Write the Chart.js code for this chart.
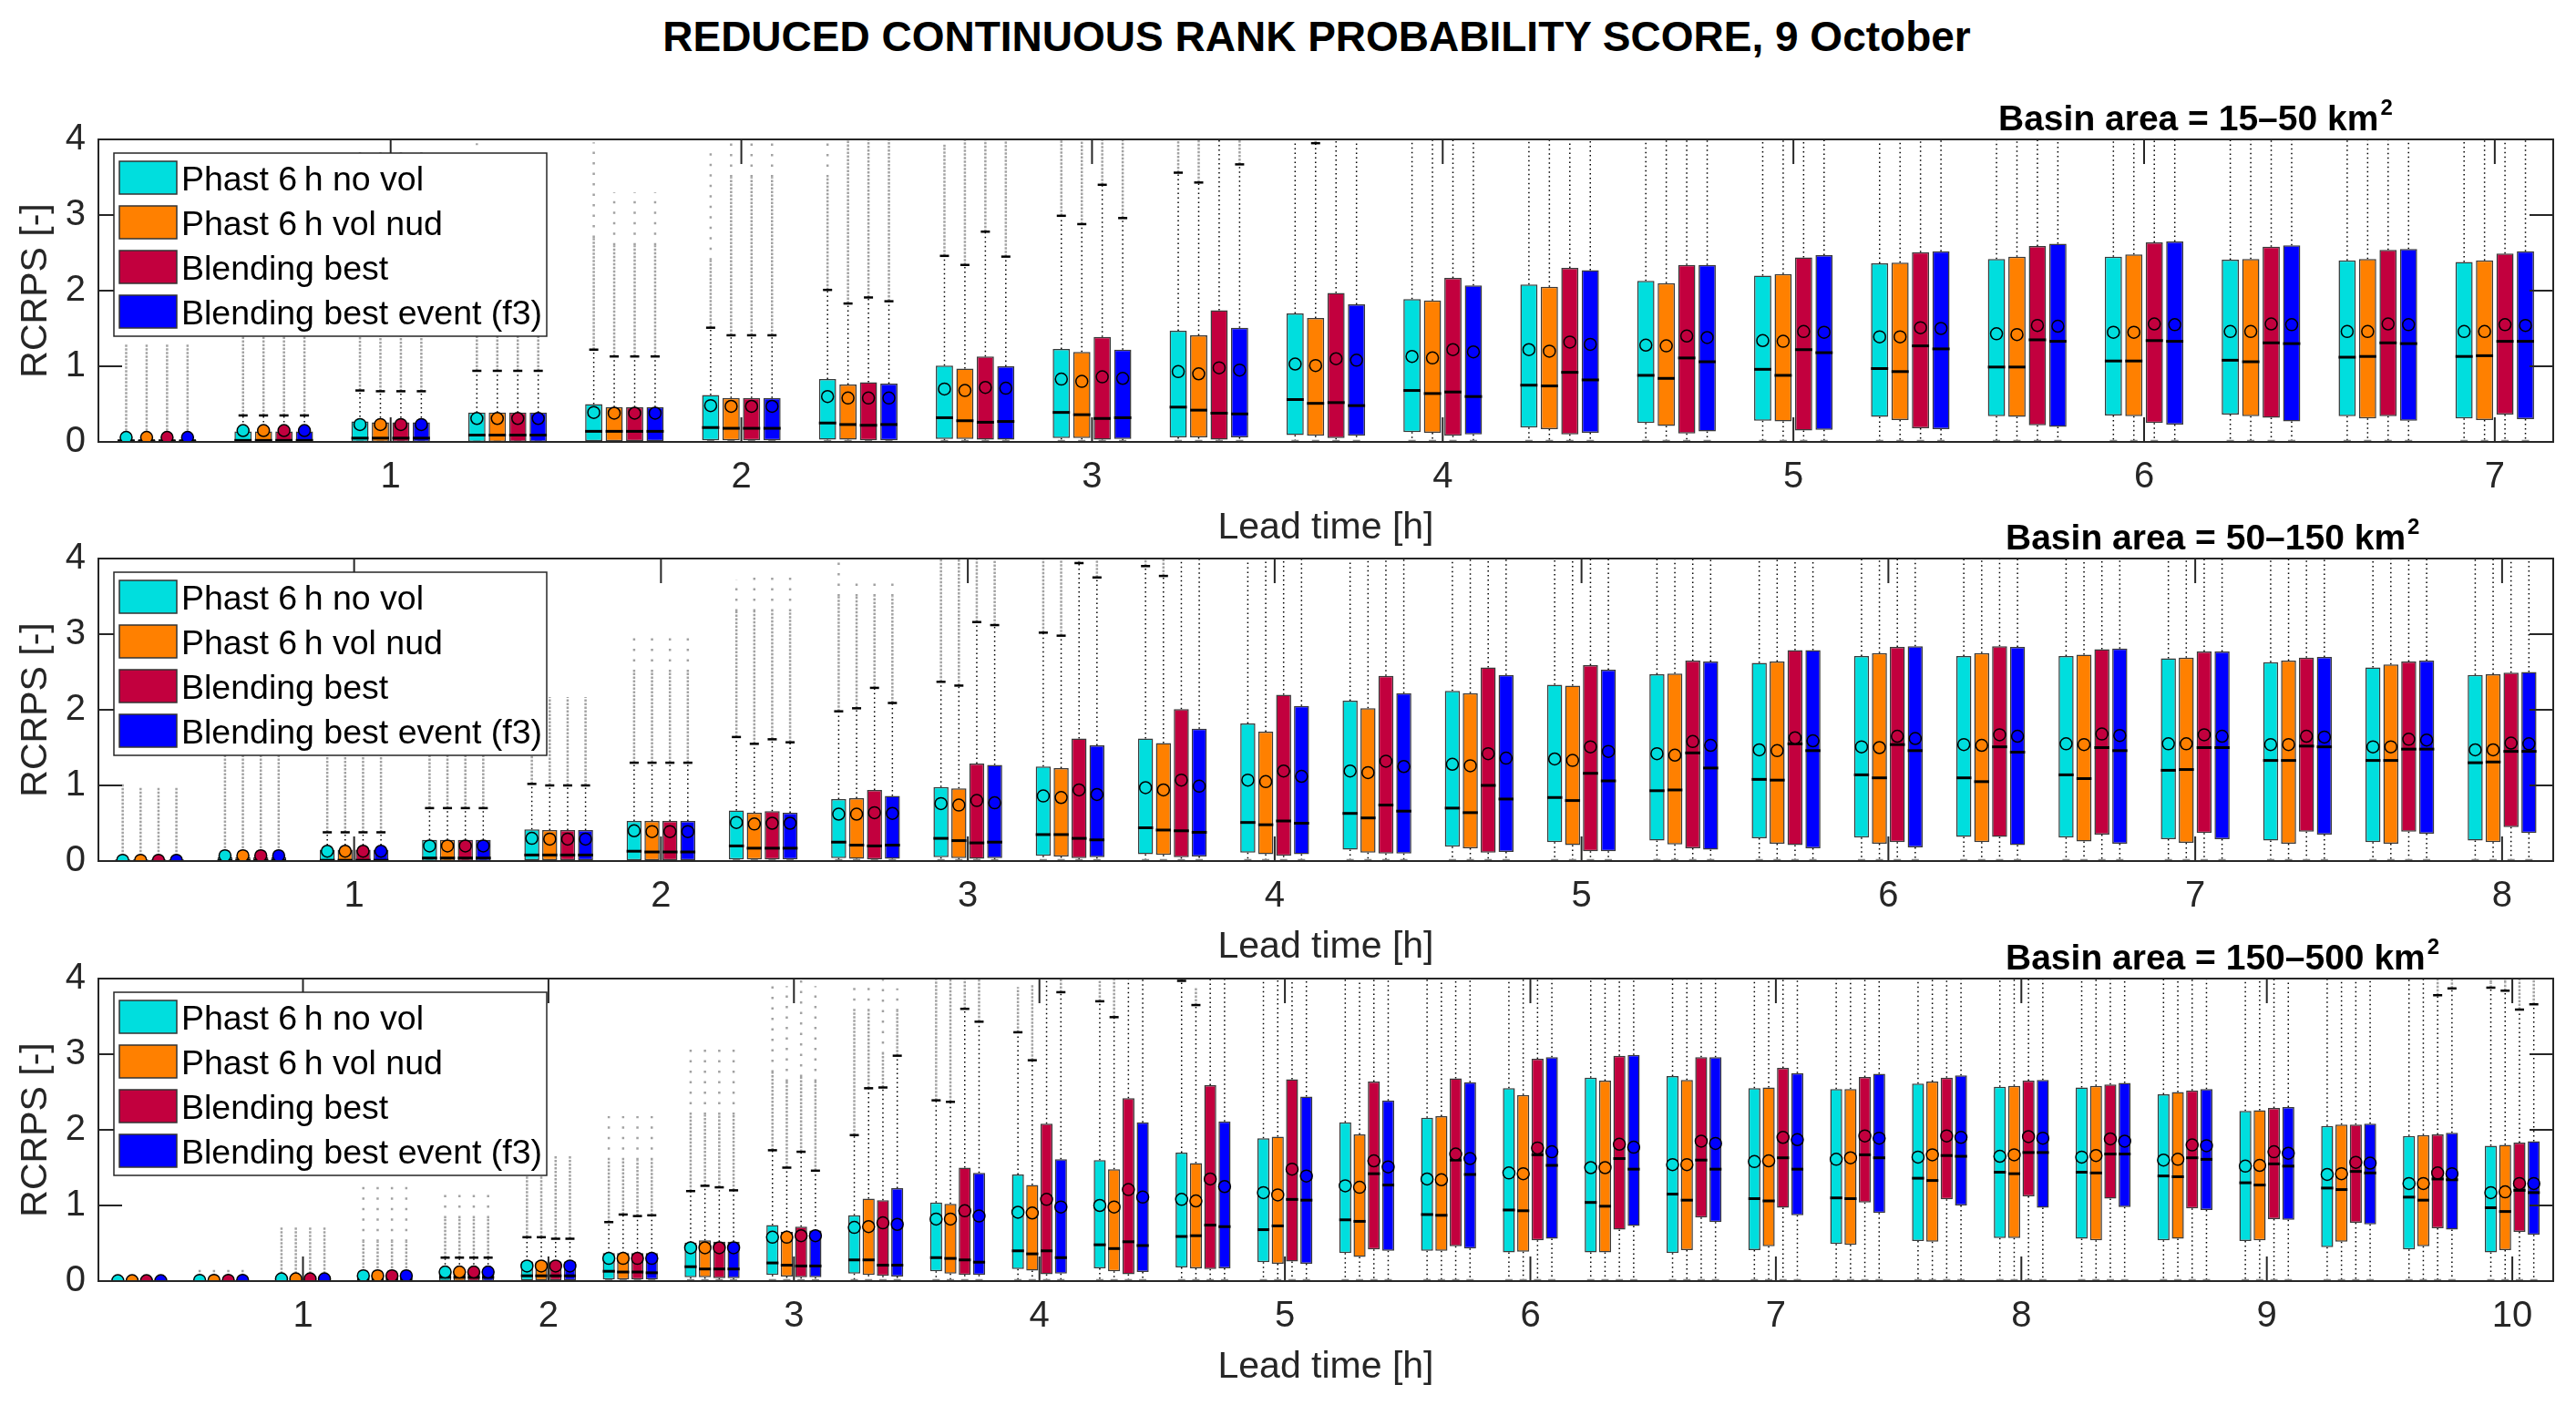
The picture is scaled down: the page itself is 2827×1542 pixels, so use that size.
<!DOCTYPE html>
<html>
<head>
<meta charset="utf-8">
<script src="https://cdn.jsdelivr.net/npm/chart.js@4.4.0/dist/chart.umd.min.js"></script>
<style>
  body { margin: 0; background: #fff; width: 2827px; height: 1542px; position: relative; overflow: hidden; }
  #title { position: absolute; left: 0; top: 13px; width: 2890px; text-align: center;
           font: bold 46px "Liberation Sans", Arial, sans-serif; line-height: 54px; color: #000; }
  canvas { position: absolute; left: 0; }
</style>
</head>
<body>
<div id="title">REDUCED CONTINUOUS RANK PROBABILITY SCORE, 9 October</div>
<canvas id="c1" width="2827" height="517" style="top:93px"></canvas>
<canvas id="c2" width="2827" height="517" style="top:553px"></canvas>
<canvas id="c3" width="2827" height="517" style="top:1014px"></canvas>
<script>
// series (order: cyan, orange, red, blue)
const SERIES = ['Phast 6\u2009h no vol', 'Phast 6\u2009h vol nud', 'Blending best', 'Blending best event (f3)'];
const COLORS = ['#00DEDE', '#FF8000', '#C2003E', '#0000FF'];

// ---------- panel 1: basin area 15-50 km2 ----------
const P1_LEAD = [20, 40, 60, 80, 100, 120, 140, 160, 180, 200, 220, 240, 260, 280, 300, 320, 340, 360, 380, 400, 420];
const P1_HOURS = [1, 2, 3, 4, 5, 6, 7];
const P1_Q1 = [
  [0, 0, 0, 0, 0.01, 0.02, 0.03, 0.04, 0.05, 0.06, 0.09, 0.13, 0.19, 0.25, 0.28, 0.33, 0.34, 0.35, 0.36, 0.34, 0.31],
  [0, 0, 0, 0, 0.01, 0.02, 0.03, 0.04, 0.05, 0.06, 0.08, 0.12, 0.17, 0.21, 0.27, 0.29, 0.33, 0.34, 0.34, 0.31, 0.29],
  [0, 0, 0, 0, 0.01, 0.02, 0.02, 0.03, 0.03, 0.03, 0.05, 0.08, 0.10, 0.11, 0.15, 0.18, 0.22, 0.25, 0.32, 0.34, 0.36],
  [0, 0, 0, 0, 0.01, 0.02, 0.02, 0.03, 0.04, 0.06, 0.08, 0.10, 0.12, 0.14, 0.16, 0.17, 0.20, 0.23, 0.27, 0.28, 0.30]
];
const P1_MED = [
  [0.005, 0.02, 0.05, 0.09, 0.14, 0.19, 0.25, 0.32, 0.39, 0.46, 0.56, 0.68, 0.75, 0.88, 0.96, 0.97, 0.99, 1.07, 1.08, 1.12, 1.13],
  [0.005, 0.02, 0.05, 0.09, 0.14, 0.18, 0.23, 0.28, 0.36, 0.42, 0.51, 0.64, 0.74, 0.84, 0.88, 0.93, 0.99, 1.07, 1.06, 1.13, 1.14],
  [0.005, 0.02, 0.05, 0.09, 0.14, 0.18, 0.22, 0.26, 0.31, 0.38, 0.52, 0.66, 0.92, 1.11, 1.22, 1.27, 1.35, 1.34, 1.31, 1.31, 1.33],
  [0.005, 0.02, 0.05, 0.09, 0.14, 0.18, 0.23, 0.27, 0.32, 0.37, 0.48, 0.60, 0.82, 1.06, 1.18, 1.23, 1.33, 1.33, 1.30, 1.30, 1.33]
];
const P1_Q3 = [
  [0.04, 0.14, 0.27, 0.39, 0.50, 0.62, 0.83, 1.01, 1.23, 1.47, 1.70, 1.89, 2.08, 2.13, 2.20, 2.36, 2.42, 2.45, 2.41, 2.40, 2.38],
  [0.04, 0.14, 0.26, 0.39, 0.46, 0.58, 0.76, 0.97, 1.19, 1.41, 1.64, 1.87, 2.05, 2.10, 2.22, 2.37, 2.45, 2.48, 2.42, 2.42, 2.40],
  [0.04, 0.14, 0.26, 0.39, 0.46, 0.58, 0.79, 1.13, 1.39, 1.74, 1.97, 2.17, 2.30, 2.34, 2.44, 2.51, 2.59, 2.64, 2.58, 2.54, 2.49],
  [0.04, 0.14, 0.26, 0.39, 0.46, 0.58, 0.77, 1.00, 1.22, 1.51, 1.82, 2.07, 2.27, 2.34, 2.47, 2.52, 2.62, 2.65, 2.60, 2.55, 2.52]
];
const P1_MEAN = [
  [0.06, 0.15, 0.23, 0.31, 0.39, 0.48, 0.60, 0.70, 0.83, 0.93, 1.03, 1.13, 1.22, 1.28, 1.34, 1.39, 1.43, 1.45, 1.46, 1.46, 1.46],
  [0.06, 0.15, 0.23, 0.31, 0.38, 0.47, 0.58, 0.68, 0.80, 0.90, 1.01, 1.11, 1.20, 1.27, 1.33, 1.39, 1.42, 1.45, 1.46, 1.46, 1.46],
  [0.06, 0.15, 0.23, 0.31, 0.38, 0.47, 0.58, 0.72, 0.86, 0.98, 1.10, 1.22, 1.32, 1.40, 1.46, 1.51, 1.54, 1.56, 1.56, 1.56, 1.55],
  [0.06, 0.15, 0.23, 0.31, 0.38, 0.47, 0.58, 0.71, 0.84, 0.95, 1.08, 1.19, 1.29, 1.38, 1.45, 1.50, 1.53, 1.55, 1.55, 1.55, 1.54]
];
// upper whisker ends (values above 4 run off the top of the axes)
const P1_WHI = [
  [0.10, 0.35, 0.68, 0.94, 1.22, 1.51, 2.01, 2.46, 2.99, 3.56, 4.5, 4.5, 4.5, 4.5, 4.5, 4.5, 4.5, 4.5, 4.5, 4.5, 4.5],
  [0.10, 0.35, 0.67, 0.94, 1.13, 1.41, 1.83, 2.34, 2.88, 3.43, 3.95, 4.5, 4.5, 4.5, 4.5, 4.5, 4.5, 4.5, 4.5, 4.5, 4.5],
  [0.10, 0.35, 0.67, 0.94, 1.13, 1.41, 1.91, 2.78, 3.40, 4.5, 4.5, 4.5, 4.5, 4.5, 4.5, 4.5, 4.5, 4.5, 4.5, 4.5, 4.5],
  [0.10, 0.35, 0.67, 0.94, 1.13, 1.41, 1.86, 2.45, 2.96, 3.67, 4.5, 4.5, 4.5, 4.5, 4.5, 4.5, 4.5, 4.5, 4.5, 4.5, 4.5]
];
// outliers: dense column top and highest isolated point
const P1_OUTD = [
  [1.3, 1.7, 2.0, 2.4, 2.7, 2.4, 3.5, 3.9, 4, 4, null, null, null, null, null, null, null, null, null, null, null],
  [1.3, 1.7, 2.0, 2.4, 2.6, 3.5, 4, 4, 4, 4, 4, null, null, null, null, null, null, null, null, null, null],
  [1.3, 1.7, 2.0, 2.4, 2.6, 3.5, 4, 4, 4, null, null, null, null, null, null, null, null, null, null, null, null],
  [1.3, 1.7, 2.0, 2.4, 2.6, 3.5, 4, 4, 4, 4, null, null, null, null, null, null, null, null, null, null, null]
];
const P1_OUTMAX = [
  [1.3, 3.9, 3.92, 3.95, 3.96, 3.88, 3.96, 4, 4, 4, null, null, null, null, null, null, null, null, null, null, null],
  [1.3, 2.5, 3.92, 3.3, 3.3, 3.95, 4, 4, 4, 4, 4, null, null, null, null, null, null, null, null, null, null],
  [1.3, 2.5, 3.92, 3.3, 3.3, 3.95, 4, 4, 4, null, null, null, null, null, null, null, null, null, null, null, null],
  [1.3, 2.5, 3.92, 3.3, 3.3, 3.95, 4, 4, 4, 4, null, null, null, null, null, null, null, null, null, null, null]
];

// ---------- panel 2: basin area 50-150 km2 ----------
const P2_LEAD = [20, 40, 60, 80, 100, 120, 140, 160, 180, 200, 220, 240, 260, 280, 300, 320, 340, 360, 380, 400, 420, 440, 460, 480];
const P2_HOURS = [1, 2, 3, 4, 5, 6, 7, 8];
const P2_Q1 = [
  [0, 0, 0, 0, 0.01, 0.01, 0.02, 0.04, 0.05, 0.07, 0.09, 0.11, 0.15, 0.19, 0.25, 0.27, 0.30, 0.31, 0.32, 0.31, 0.29, 0.27, 0.25, 0.27],
  [0, 0, 0, 0, 0.01, 0.01, 0.02, 0.03, 0.04, 0.06, 0.08, 0.09, 0.11, 0.17, 0.21, 0.22, 0.23, 0.23, 0.25, 0.26, 0.24, 0.23, 0.23, 0.25],
  [0, 0, 0, 0, 0.01, 0.01, 0.02, 0.02, 0.03, 0.04, 0.05, 0.07, 0.10, 0.11, 0.13, 0.17, 0.21, 0.25, 0.32, 0.35, 0.37, 0.39, 0.39, 0.45],
  [0, 0, 0, 0, 0.01, 0.01, 0.02, 0.03, 0.04, 0.05, 0.06, 0.09, 0.10, 0.12, 0.13, 0.15, 0.17, 0.18, 0.21, 0.23, 0.29, 0.35, 0.36, 0.37]
];
const P2_MED = [
  [0, 0.005, 0.01, 0.04, 0.08, 0.13, 0.20, 0.25, 0.30, 0.35, 0.44, 0.51, 0.63, 0.70, 0.84, 0.93, 1.08, 1.14, 1.10, 1.14, 1.20, 1.33, 1.33, 1.30],
  [0, 0.005, 0.01, 0.04, 0.08, 0.12, 0.17, 0.21, 0.27, 0.35, 0.41, 0.48, 0.57, 0.64, 0.80, 0.94, 1.07, 1.10, 1.05, 1.09, 1.21, 1.33, 1.33, 1.31],
  [0, 0.005, 0.01, 0.04, 0.08, 0.12, 0.17, 0.20, 0.24, 0.30, 0.40, 0.53, 0.74, 1.00, 1.16, 1.43, 1.55, 1.54, 1.51, 1.50, 1.50, 1.52, 1.48, 1.45],
  [0, 0.005, 0.01, 0.04, 0.08, 0.12, 0.17, 0.21, 0.25, 0.28, 0.38, 0.50, 0.66, 0.82, 1.06, 1.23, 1.46, 1.46, 1.44, 1.46, 1.50, 1.51, 1.48, 1.45]
];
const P2_Q3 = [
  [0.01, 0.05, 0.15, 0.28, 0.42, 0.53, 0.67, 0.82, 0.98, 1.25, 1.62, 1.82, 2.12, 2.25, 2.33, 2.47, 2.62, 2.71, 2.71, 2.71, 2.68, 2.63, 2.56, 2.46],
  [0.01, 0.05, 0.15, 0.28, 0.41, 0.53, 0.64, 0.83, 0.96, 1.23, 1.56, 1.71, 2.02, 2.22, 2.32, 2.48, 2.64, 2.75, 2.75, 2.73, 2.69, 2.65, 2.60, 2.47],
  [0.01, 0.05, 0.15, 0.28, 0.41, 0.53, 0.66, 0.94, 1.29, 1.62, 2.01, 2.20, 2.45, 2.56, 2.59, 2.65, 2.79, 2.83, 2.84, 2.80, 2.77, 2.69, 2.64, 2.49],
  [0.01, 0.05, 0.15, 0.28, 0.41, 0.53, 0.64, 0.86, 1.27, 1.53, 1.75, 2.05, 2.22, 2.46, 2.53, 2.64, 2.79, 2.84, 2.83, 2.81, 2.77, 2.70, 2.65, 2.50]
];
const P2_MEAN = [
  [0.01, 0.07, 0.13, 0.20, 0.30, 0.40, 0.51, 0.62, 0.76, 0.86, 0.97, 1.07, 1.19, 1.28, 1.35, 1.42, 1.47, 1.51, 1.54, 1.55, 1.55, 1.54, 1.51, 1.47],
  [0.01, 0.07, 0.13, 0.20, 0.29, 0.39, 0.49, 0.62, 0.74, 0.84, 0.94, 1.05, 1.17, 1.26, 1.33, 1.40, 1.46, 1.50, 1.53, 1.54, 1.55, 1.54, 1.51, 1.47],
  [0.01, 0.07, 0.13, 0.20, 0.29, 0.39, 0.50, 0.64, 0.80, 0.94, 1.07, 1.19, 1.32, 1.42, 1.51, 1.58, 1.63, 1.65, 1.67, 1.68, 1.67, 1.65, 1.61, 1.56],
  [0.01, 0.07, 0.13, 0.20, 0.29, 0.39, 0.50, 0.63, 0.77, 0.88, 0.99, 1.12, 1.25, 1.36, 1.45, 1.53, 1.59, 1.62, 1.65, 1.66, 1.65, 1.64, 1.60, 1.55]
];
const P2_WHI = [
  [0.02, 0.12, 0.38, 0.70, 1.02, 1.30, 1.64, 1.98, 2.37, 3.02, 3.90, 4.5, 4.5, 4.5, 4.5, 4.5, 4.5, 4.5, 4.5, 4.5, 4.5, 4.5, 4.5, 4.5],
  [0.02, 0.12, 0.38, 0.70, 1.00, 1.30, 1.55, 2.02, 2.32, 2.98, 3.77, 4.5, 4.5, 4.5, 4.5, 4.5, 4.5, 4.5, 4.5, 4.5, 4.5, 4.5, 4.5, 4.5],
  [0.02, 0.12, 0.38, 0.70, 1.00, 1.30, 1.61, 2.29, 3.16, 3.94, 4.5, 4.5, 4.5, 4.5, 4.5, 4.5, 4.5, 4.5, 4.5, 4.5, 4.5, 4.5, 4.5, 4.5],
  [0.02, 0.12, 0.38, 0.70, 1.00, 1.30, 1.57, 2.09, 3.12, 3.75, 4.5, 4.5, 4.5, 4.5, 4.5, 4.5, 4.5, 4.5, 4.5, 4.5, 4.5, 4.5, 4.5, 4.5]
];
const P2_OUTD = [
  [1.03, 1.5, 2.0, 2.2, 2.2, 2.5, 3.3, 3.5, 4, 4, 4, null, null, null, null, null, null, null, null, null, null, null, null, null],
  [0.97, 1.5, 2.0, 2.2, 2.17, 2.5, 3.3, 3.5, 4, 4, 4, null, null, null, null, null, null, null, null, null, null, null, null, null],
  [0.97, 1.5, 2.0, 2.2, 2.17, 2.5, 3.3, 3.5, 4, 4, null, null, null, null, null, null, null, null, null, null, null, null, null, null],
  [0.97, 1.5, 2.0, 2.2, 2.17, 2.5, 3.3, 3.5, 4, 4, null, null, null, null, null, null, null, null, null, null, null, null, null, null]
];
const P2_OUTMAX = [
  [1.03, 1.5, 2.0, 2.2, 2.2, 3.0, 3.72, 3.98, 4, 4, 4, null, null, null, null, null, null, null, null, null, null, null, null, null],
  [0.97, 1.5, 2.0, 2.2, 2.17, 3.0, 3.8, 3.72, 4, 4, 4, null, null, null, null, null, null, null, null, null, null, null, null, null],
  [0.97, 1.5, 2.0, 2.2, 2.17, 3.0, 3.8, 3.72, 4, 4, null, null, null, null, null, null, null, null, null, null, null, null, null, null],
  [0.97, 1.5, 2.0, 2.2, 2.17, 3.0, 3.8, 3.72, 4, 4, null, null, null, null, null, null, null, null, null, null, null, null, null, null]
];

// ---------- panel 3: basin area 150-500 km2 ----------
const P3_LEAD = [20, 40, 60, 80, 100, 120, 140, 160, 180, 200, 220, 240, 260, 280, 300, 320, 340, 360, 380, 400, 420, 440, 460, 480, 500, 520, 540, 560, 580, 600];
const P3_HOURS = [1, 2, 3, 4, 5, 6, 7, 8, 9, 10];
const P3_Q1 = [
  [0, 0, 0, 0, 0, 0.01, 0.02, 0.05, 0.08, 0.10, 0.13, 0.16, 0.17, 0.18, 0.25, 0.37, 0.40, 0.38, 0.38, 0.37, 0.41, 0.49, 0.53, 0.57, 0.56, 0.54, 0.53, 0.45, 0.42, 0.38],
  [0, 0, 0, 0, 0, 0.01, 0.02, 0.05, 0.06, 0.08, 0.10, 0.14, 0.13, 0.17, 0.23, 0.32, 0.40, 0.39, 0.38, 0.41, 0.46, 0.48, 0.52, 0.57, 0.54, 0.56, 0.54, 0.52, 0.46, 0.41],
  [0, 0, 0, 0, 0, 0.01, 0.02, 0.04, 0.05, 0.07, 0.08, 0.09, 0.09, 0.16, 0.26, 0.42, 0.46, 0.54, 0.68, 0.84, 0.97, 1.04, 1.08, 1.12, 1.09, 0.96, 0.82, 0.77, 0.70, 0.65],
  [0, 0, 0, 0, 0, 0.01, 0.02, 0.04, 0.05, 0.06, 0.08, 0.10, 0.12, 0.17, 0.23, 0.40, 0.43, 0.56, 0.73, 0.78, 0.87, 0.90, 1.00, 0.97, 0.98, 0.94, 0.81, 0.75, 0.68, 0.61]
];
const P3_MED = [
  [0, 0, 0.005, 0.02, 0.05, 0.07, 0.13, 0.19, 0.24, 0.28, 0.31, 0.40, 0.48, 0.59, 0.68, 0.81, 0.88, 0.94, 1.04, 1.15, 1.09, 1.10, 1.36, 1.44, 1.44, 1.39, 1.30, 1.23, 1.11, 0.97],
  [0, 0, 0.005, 0.02, 0.05, 0.07, 0.12, 0.16, 0.21, 0.28, 0.30, 0.36, 0.43, 0.60, 0.73, 0.79, 0.87, 0.93, 0.99, 1.07, 1.06, 1.09, 1.33, 1.42, 1.43, 1.38, 1.27, 1.21, 1.07, 0.92],
  [0, 0, 0.005, 0.02, 0.05, 0.07, 0.12, 0.16, 0.20, 0.21, 0.28, 0.40, 0.52, 0.74, 1.08, 1.42, 1.60, 1.67, 1.62, 1.60, 1.63, 1.67, 1.66, 1.70, 1.68, 1.63, 1.55, 1.45, 1.35, 1.20],
  [0, 0, 0.005, 0.02, 0.05, 0.07, 0.11, 0.16, 0.20, 0.21, 0.25, 0.31, 0.47, 0.72, 1.07, 1.27, 1.41, 1.53, 1.48, 1.48, 1.48, 1.63, 1.65, 1.70, 1.68, 1.61, 1.52, 1.43, 1.34, 1.17]
];
const P3_Q3 = [
  [0.005, 0.01, 0.02, 0.06, 0.10, 0.26, 0.37, 0.51, 0.74, 0.87, 1.04, 1.41, 1.60, 1.70, 1.89, 2.10, 2.16, 2.55, 2.69, 2.71, 2.55, 2.54, 2.61, 2.57, 2.56, 2.47, 2.25, 2.05, 1.92, 1.79],
  [0.005, 0.01, 0.02, 0.06, 0.10, 0.26, 0.37, 0.54, 0.65, 1.09, 1.02, 1.27, 1.48, 1.56, 1.91, 1.94, 2.18, 2.46, 2.65, 2.66, 2.56, 2.54, 2.64, 2.58, 2.58, 2.50, 2.26, 2.07, 1.93, 1.80],
  [0.005, 0.01, 0.02, 0.06, 0.10, 0.26, 0.37, 0.52, 0.72, 1.07, 1.50, 2.08, 2.42, 2.59, 2.67, 2.64, 2.68, 2.94, 2.98, 2.96, 2.82, 2.70, 2.69, 2.65, 2.60, 2.52, 2.29, 2.07, 1.94, 1.83],
  [0.005, 0.01, 0.02, 0.06, 0.10, 0.26, 0.37, 0.52, 0.67, 1.23, 1.43, 1.61, 2.10, 2.11, 2.44, 2.39, 2.63, 2.96, 2.99, 2.96, 2.75, 2.74, 2.72, 2.66, 2.62, 2.54, 2.30, 2.08, 1.96, 1.85]
];
const P3_MEAN = [
  [0.005, 0.01, 0.03, 0.07, 0.12, 0.20, 0.30, 0.44, 0.58, 0.71, 0.82, 0.91, 1.00, 1.08, 1.17, 1.26, 1.35, 1.43, 1.50, 1.54, 1.58, 1.61, 1.64, 1.65, 1.64, 1.60, 1.52, 1.41, 1.29, 1.17],
  [0.005, 0.01, 0.03, 0.07, 0.12, 0.20, 0.30, 0.44, 0.58, 0.72, 0.82, 0.90, 0.98, 1.06, 1.14, 1.24, 1.34, 1.42, 1.50, 1.54, 1.59, 1.63, 1.67, 1.67, 1.66, 1.61, 1.53, 1.42, 1.29, 1.18],
  [0.005, 0.01, 0.03, 0.07, 0.12, 0.20, 0.30, 0.44, 0.60, 0.77, 0.93, 1.08, 1.21, 1.35, 1.48, 1.59, 1.68, 1.76, 1.81, 1.85, 1.90, 1.92, 1.92, 1.91, 1.88, 1.80, 1.71, 1.57, 1.43, 1.29],
  [0.005, 0.01, 0.03, 0.07, 0.12, 0.20, 0.30, 0.44, 0.60, 0.75, 0.86, 0.98, 1.11, 1.25, 1.39, 1.51, 1.62, 1.71, 1.77, 1.82, 1.87, 1.89, 1.90, 1.89, 1.85, 1.79, 1.69, 1.56, 1.42, 1.29]
];
const P3_WHI = [
  [0.01, 0.02, 0.05, 0.12, 0.31, 0.58, 0.78, 1.19, 1.73, 1.93, 2.39, 3.29, 3.70, 3.97, 4.5, 4.5, 4.5, 4.5, 4.5, 4.5, 4.5, 4.5, 4.5, 4.5, 4.5, 4.5, 4.5, 4.5, 4.5, 3.88],
  [0.01, 0.02, 0.05, 0.12, 0.31, 0.58, 0.88, 1.26, 1.50, 2.55, 2.37, 2.92, 3.49, 3.65, 4.5, 4.5, 4.5, 4.5, 4.5, 4.5, 4.5, 4.5, 4.5, 4.5, 4.5, 4.5, 4.5, 4.5, 4.5, 3.84],
  [0.01, 0.02, 0.05, 0.12, 0.31, 0.56, 0.86, 1.24, 1.71, 2.56, 3.60, 4.5, 4.5, 4.5, 4.5, 4.5, 4.5, 4.5, 4.5, 4.5, 4.5, 4.5, 4.5, 4.5, 4.5, 4.5, 4.5, 4.5, 3.78, 3.59],
  [0.01, 0.02, 0.05, 0.12, 0.31, 0.56, 0.87, 1.20, 1.46, 2.98, 3.43, 3.82, 4.5, 4.5, 4.5, 4.5, 4.5, 4.5, 4.5, 4.5, 4.5, 4.5, 4.5, 4.5, 4.5, 4.5, 4.5, 4.5, 3.87, 3.66]
];
const P3_OUTD = [
  [null, 0.15, 0.71, 0.52, 0.83, 1.67, 1.6, 2.2, 2.76, 3.57, 4, 3.89, 4, 4, null, null, null, null, null, null, null, null, null, null, null, null, null, null, null, 3.95],
  [null, 0.15, 0.71, 0.52, 0.83, 1.67, 1.6, 2.2, 2.64, 3.57, 4, 3.92, 4, 3.89, null, null, null, null, null, null, null, null, null, null, null, null, null, null, null, 3.95],
  [null, 0.15, 0.71, 0.52, 0.83, 1.67, 1.6, 2.2, 2.7, 3.0, 4, null, null, null, null, null, null, null, null, null, null, null, null, null, null, null, null, null, 4, 4],
  [null, 0.15, 0.71, 0.52, 0.83, 1.67, 1.6, 2.2, 2.64, 3.57, 4, 4, null, null, null, null, null, null, null, null, null, null, null, null, null, null, null, null, 4, 4]
];
const P3_OUTMAX = [
  [null, 0.15, 0.71, 1.35, 1.17, 1.67, 2.18, 3.13, 4, 3.93, 4, 3.89, 4, 4, null, null, null, null, null, null, null, null, null, null, null, null, null, null, null, 4],
  [null, 0.15, 0.71, 1.35, 1.17, 1.67, 2.18, 3.16, 3.9, 3.95, 4, 3.92, 4, 3.89, null, null, null, null, null, null, null, null, null, null, null, null, null, null, null, 4],
  [null, 0.15, 0.71, 1.35, 1.17, 1.67, 2.18, 3.16, 4, 4, 4, null, null, null, null, null, null, null, null, null, null, null, null, null, null, null, null, null, 4, 4],
  [null, 0.15, 0.71, 1.35, 1.17, 1.67, 2.18, 3.16, 3.9, 3.87, 4, 4, null, null, null, null, null, null, null, null, null, null, null, null, null, null, null, null, 4, 4]
];

Chart.defaults.font.family = '"Liberation Sans", Arial, Helvetica, sans-serif';
Chart.defaults.color = '#262626';
const AXIS = '#262626';

function seg(ctx, x1, y1, x2, y2) {
  ctx.beginPath();
  ctx.moveTo(x1, y1);
  ctx.lineTo(x2, y2);
  ctx.stroke();
}

// whiskers, outliers, medians, means, legend and frame, all placed through the chart scales
function boxExtras(p) {
  return {
    id: 'boxExtras',
    beforeDatasetsDraw(chart) {
      const { ctx, chartArea: a } = chart;
      const Y = v => chart.scales.y.getPixelForValue(v);
      ctx.save();
      ctx.beginPath();
      ctx.rect(a.left, a.top, a.width, a.height);
      ctx.clip();
      chart.data.datasets.forEach((ds, s) => {
        chart.getDatasetMeta(s).data.forEach((bar, k) => {
          const { x } = bar.getProps(['x'], true);
          const hi = p.whi[s][k], dn = p.outD[s][k], mx = p.outMax[s][k];
          if (dn != null) {
            ctx.strokeStyle = '#a2a2a2';
            ctx.lineWidth = 2.5;
            ctx.setLineDash([2.5, 1.5]);
            seg(ctx, x, Y(hi), x, Y(dn));
            if (mx > dn) {
              ctx.setLineDash([2.5, 9]);
              seg(ctx, x, Y(dn), x, Y(mx));
            }
          }
          ctx.strokeStyle = '#000';
          ctx.lineWidth = 1.5;
          ctx.setLineDash([1.5, 3.5]);
          seg(ctx, x, Y(p.q3[s][k]), x, Y(hi));
          seg(ctx, x, Y(p.q1[s][k]), x, Y(0));
          ctx.setLineDash([]);
          ctx.lineWidth = 2.5;
          if (hi <= 4) seg(ctx, x - 5, Y(hi), x + 5, Y(hi));
          ctx.strokeStyle = '#888';
          seg(ctx, x - 4, Y(0) - 1, x + 4, Y(0) - 1);
        });
      });
      ctx.restore();
    },
    afterDatasetsDraw(chart) {
      const { ctx, chartArea: a } = chart;
      const Y = v => chart.scales.y.getPixelForValue(v);
      ctx.save();
      ctx.beginPath();
      ctx.rect(a.left, a.top - 10, a.width, a.height + 10);
      ctx.clip();
      chart.data.datasets.forEach((ds, s) => {
        chart.getDatasetMeta(s).data.forEach((bar, k) => {
          const { x, width } = bar.getProps(['x', 'width'], true);
          ctx.strokeStyle = '#000';
          ctx.lineWidth = 3;
          seg(ctx, x - width / 2, Y(p.med[s][k]), x + width / 2, Y(p.med[s][k]));
          ctx.beginPath();
          ctx.arc(x, Y(p.mean[s][k]), 6.5, 0, Math.PI * 2);
          ctx.fillStyle = COLORS[s];
          ctx.fill();
          ctx.lineWidth = 1.5;
          ctx.stroke();
        });
      });
      ctx.restore();
    },
    afterDraw(chart) {
      const { ctx, chartArea: a } = chart;
      const xs = chart.scales.x, ys = chart.scales.y;
      ctx.save();
      // frame and inward ticks
      ctx.strokeStyle = AXIS;
      ctx.lineWidth = 2;
      ctx.strokeRect(a.left, a.top, a.width, a.height);
      p.hours.forEach(h => {
        const px = xs.getPixelForValue(h * 60);
        seg(ctx, px, a.bottom, px, a.bottom - 27);
        seg(ctx, px, a.top, px, a.top + 27);
      });
      [1, 2, 3].forEach(v => {
        const py = ys.getPixelForValue(v);
        seg(ctx, a.left, py, a.left + 26, py);
        seg(ctx, a.right, py, a.right - 26, py);
      });
      // legend
      const lx = a.left + 17, ly = a.top + 15;
      ctx.fillStyle = '#fff';
      ctx.fillRect(lx, ly, 475, 201);
      ctx.strokeStyle = '#262626';
      ctx.lineWidth = 1.5;
      ctx.strokeRect(lx, ly, 475, 201);
      ctx.font = '37.5px "Liberation Sans", Arial, sans-serif';
      ctx.textBaseline = 'alphabetic';
      SERIES.forEach((name, s) => {
        const sy = ly + 9 + s * 49;
        ctx.fillStyle = COLORS[s];
        ctx.fillRect(lx + 6, sy, 63, 36);
        ctx.strokeStyle = '#333';
        ctx.strokeRect(lx + 6, sy, 63, 36);
        ctx.fillStyle = '#000';
        ctx.fillText(name, lx + 74, sy + 18 + 13.5);
      });
      // basin-area label with superscript 2
      ctx.fillStyle = '#000';
      ctx.font = 'bold 39px "Liberation Sans", Arial, sans-serif';
      const base = a.top - 10;
      ctx.fillText(p.label, p.labelX, base);
      const w = ctx.measureText(p.label).width;
      ctx.font = 'bold 24px "Liberation Sans", Arial, sans-serif';
      ctx.fillText('2', p.labelX + w + 2, base - 17);
      ctx.restore();
    }
  };
}

function makePanel(id, p) {
  const n = p.lead.length;
  const step = p.lead[1] - p.lead[0];
  const datasets = SERIES.map((name, s) => ({
    label: name,
    data: p.lead.map((t, k) => ({ x: t, y: [p.q1[s][k], p.q3[s][k]] })),
    backgroundColor: COLORS[s],
    borderColor: '#3a3a3a',
    borderWidth: 1.5,
    borderSkipped: false,
    categoryPercentage: 0.7,
    barPercentage: 0.84
  }));
  return new Chart(document.getElementById(id), {
    type: 'bar',
    data: { datasets },
    options: {
      responsive: false,
      animation: false,
      devicePixelRatio: 1,
      layout: { padding: { top: 60, right: 25, left: 0, bottom: 0 } },
      plugins: { legend: { display: false }, tooltip: { enabled: false } },
      scales: {
        x: {
          type: 'linear',
          offset: false,
          min: p.lead[0] - step / 2,
          max: p.lead[n - 1] + step / 2,
          afterBuildTicks: sc => { sc.ticks = p.hours.map(h => ({ value: h * 60 })); },
          afterFit: sc => { sc.height = 125; },
          ticks: { callback: v => String(v / 60), font: { size: 40 }, padding: 15, autoSkip: false, maxRotation: 0 },
          grid: { display: false, drawTicks: false },
          border: { display: false },
          title: { display: true, text: 'Lead time [h]', font: { size: 41 }, color: '#262626', padding: { top: 0, bottom: 6 } }
        },
        y: {
          min: 0,
          max: 4,
          afterFit: sc => { sc.width = 108; },
          ticks: { stepSize: 1, font: { size: 40 }, padding: 14 },
          grid: { display: false, drawTicks: false },
          border: { display: false },
          title: { display: true, text: 'RCRPS [-]', font: { size: 41 }, color: '#262626', padding: { top: 15, bottom: 0 } }
        }
      }
    },
    plugins: [boxExtras(p)]
  });
}

makePanel('c1', { lead: P1_LEAD, hours: P1_HOURS, q1: P1_Q1, med: P1_MED, q3: P1_Q3, mean: P1_MEAN,
  whi: P1_WHI, outD: P1_OUTD, outMax: P1_OUTMAX, label: 'Basin area = 15\u201350 km', labelX: 2193 });
makePanel('c2', { lead: P2_LEAD, hours: P2_HOURS, q1: P2_Q1, med: P2_MED, q3: P2_Q3, mean: P2_MEAN,
  whi: P2_WHI, outD: P2_OUTD, outMax: P2_OUTMAX, label: 'Basin area = 50\u2013150 km', labelX: 2201 });
makePanel('c3', { lead: P3_LEAD, hours: P3_HOURS, q1: P3_Q1, med: P3_MED, q3: P3_Q3, mean: P3_MEAN,
  whi: P3_WHI, outD: P3_OUTD, outMax: P3_OUTMAX, label: 'Basin area = 150\u2013500 km', labelX: 2201 });
</script>
</body>
</html>
